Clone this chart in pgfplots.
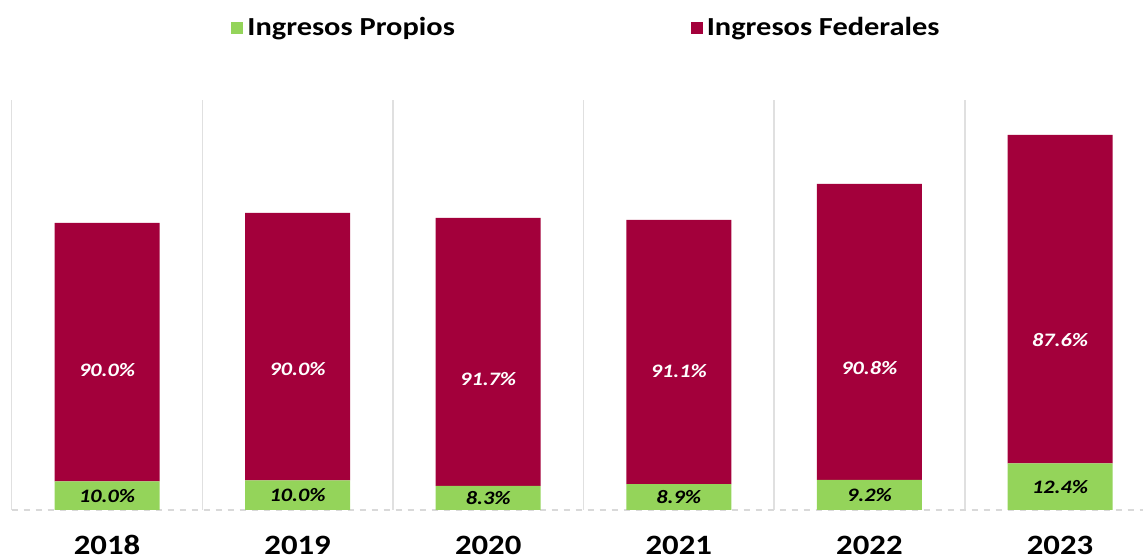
\documentclass[border=0pt]{standalone}
\usepackage{fontspec}
\setmainfont{Carlito}[FakeStretch=1.17]
\usepackage{pgfplots}
\pgfplotsset{compat=1.18}
\usepackage{pgfplotstable}
\definecolor{verde}{HTML}{94D45A}
\definecolor{guinda}{HTML}{A3003B}
\pgfplotstableread{
x g gp goff f fp foff
0 28.7 10.0 0 258.3 90.0 -17.85
1 29.7 10.0 0 267.3 90.0 -22.35
2 24.2 8.3 0 267.8 91.7 -27.1
3 25.8 8.9 0 264.2 91.1 -18.9
4 30.0 9.2 0 296.0 90.8 -36
5 46.5 12.4 0 328.5 87.6 -40.75
}\datos
\begin{document}
\begin{tikzpicture}
\useasboundingbox (0,0) rectangle (571.5pt,280pt);
\begin{axis}[
  at={(53.5pt,25pt)}, anchor=origin,
  x=95.3pt, y=0.5pt,
  xmin=-0.5, xmax=5.435, ymin=0, ymax=410,
  ybar stacked, bar width=52.5pt,
  axis y line=none, axis x line*=bottom,
  x axis line style={draw=black!15, dashed, line width=0.8pt},
  xtick={0,...,5}, xticklabels={2018,2019,2020,2021,2022,2023},
  minor xtick={-0.5,0.5,1.5,2.5,3.5,4.5},
  xminorgrids, minor grid style={black!12, line width=0.8pt},
  major tick length=0pt, minor tick length=0pt,
  xticklabel style={font=\fontsize{14}{14}\selectfont\bfseries, anchor=center, yshift=-17.5pt},
  /pgf/number format/assume math mode=true,
  legend columns=2,
  legend image code/.code={\fill[#1] (0pt,-3pt) rectangle (6pt,3pt);},
  legend style={at={(0.509,1.1756)}, anchor=center, draw=none, fill=none,
    font=\fontsize{13}{13}\selectfont\bfseries,
    /tikz/every even column/.append style={column sep=116pt},
    /tikz/every odd column/.append style={column sep=0pt}},
]
\addplot[fill=verde, draw=none, point meta=explicit,
  nodes near coords={\pgfmathprintnumber[fixed,fixed zerofill,precision=1]{\pgfplotspointmeta}\%},
  visualization depends on={\thisrow{goff} \as \off},
  every node near coord/.append style={anchor=center, text=black,
    font=\fontsize{9.5}{9.5}\selectfont\bfseries\itshape,
    shift={(axis direction cs:0,\off)}}]
  table[x=x, y=g, meta=gp] {\datos};
\addlegendentry{Ingresos Propios}
\addplot[fill=guinda, draw=none, point meta=explicit,
  nodes near coords={\pgfmathprintnumber[fixed,fixed zerofill,precision=1]{\pgfplotspointmeta}\%},
  visualization depends on={\thisrow{foff} \as \off},
  every node near coord/.append style={anchor=center, text=white,
    font=\fontsize{9.5}{9.5}\selectfont\bfseries\itshape,
    shift={(axis direction cs:0,\off)}}]
  table[x=x, y=f, meta=fp] {\datos};
\addlegendentry{Ingresos Federales}
\end{axis}
\end{tikzpicture}
\end{document}
